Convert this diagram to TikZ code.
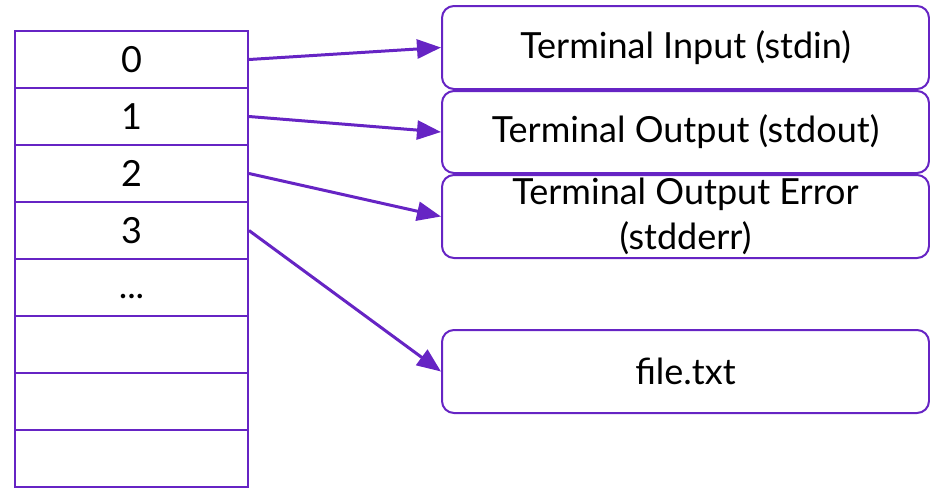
\documentclass[tikz,border=0pt]{standalone}
\usepackage{fontspec}
\setmainfont{Lato}
\usetikzlibrary{arrows.meta}
\definecolor{fdpurple}{RGB}{102,36,196}
\tikzset{
  cell/.style={draw=fdpurple, line width=2pt, minimum width=233pt, minimum height=57pt,
    inner sep=0pt, anchor=north west, font=\fontsize{36}{42}\selectfont},
  target/.style={draw=fdpurple, line width=2pt, rounded corners=12pt, minimum width=487pt,
    inner sep=0pt, anchor=north west, align=center, font=\fontsize{36}{45}\selectfont},
  link/.style={draw=fdpurple, line width=3pt, -{Triangle[length=24pt,width=19pt]}},
}
\begin{document}
\begin{tikzpicture}[x=1pt,y=-1pt]
  \useasboundingbox (0,0) rectangle (930,488);
  % descriptor table
  \node[cell] (r0) at (14,30) {0};
  \node[cell] (r1) at (14,87) {1};
  \node[cell] (r2) at (14,144) {2};
  \node[cell] (r3) at (14,201) {3};
  \node[cell] (r4) at (14,258) {\smash{\raisebox{-11pt}{...}}};
  \node[cell] (r5) at (14,315) {};
  \node[cell] (r6) at (14,372) {};
  \node[cell] (r7) at (14,429) {};
  % open files
  \node[target, minimum height=83pt] (in) at (441,5) {Terminal Input (stdin)};
  \node[target, minimum height=82pt] (out) at (441,90) {Terminal Output (stdout)};
  \node[target, minimum height=83pt] (err) at (441,174) {Terminal Output Error\\(stdderr)};
  \node[target, minimum height=83pt] (file) at (441,329) {file.txt};
  % references
  \draw[link] (r0.east) -- (in.west);
  \draw[link] (r1.east) -- (out.west);
  \draw[link] (r2.east) -- (err.west);
  \draw[link] (r3.east) -- (file.west);
\end{tikzpicture}
\end{document}
